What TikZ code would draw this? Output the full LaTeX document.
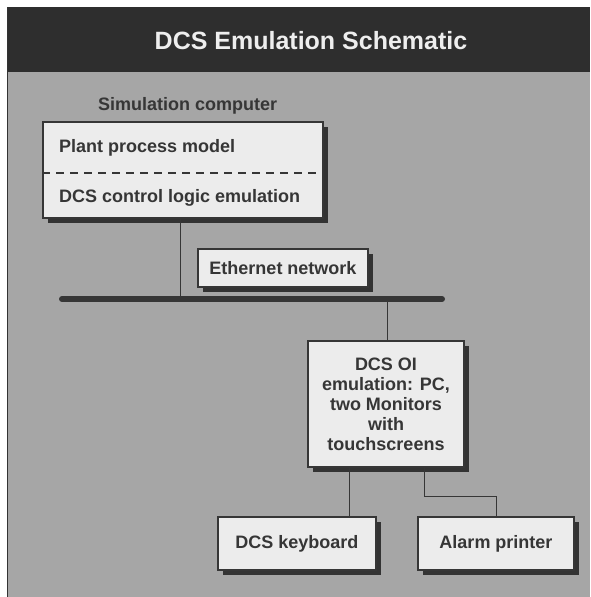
\documentclass[tikz,border=0pt]{standalone}
\usepackage{fontspec}
\setmainfont{Liberation Sans}
\usetikzlibrary{shadows}
\definecolor{bargray}{HTML}{2E2E2E}
\definecolor{bggray}{HTML}{A6A6A6}
\definecolor{boxfill}{HTML}{ECECEC}
\definecolor{inkgray}{HTML}{363636}
\definecolor{shadowgray}{HTML}{333333}
\definecolor{titlewhite}{HTML}{EEEEEE}
\tikzset{
  bodyfont/.style={font=\fontsize{18}{20}\selectfont\bfseries, text=inkgray},
  boxnode/.style={draw=inkgray, line width=1.3pt, fill=boxfill, inner sep=0pt,
    drop shadow={shadow xshift=4.5pt, shadow yshift=-4.5pt, fill=shadowgray, opacity=1},
    bodyfont, align=center},
  label text/.style={bodyfont, inner sep=0pt},
  wire/.style={draw=inkgray, line width=1pt},
  bus/.style={draw=inkgray, line width=6pt, line cap=round}
}
\begin{document}
\begin{tikzpicture}[x=1pt, y=-1pt]
\useasboundingbox (0,0) rectangle (590,597);
\fill[white] (0,0) rectangle (590,597);
\fill[bggray] (7,72) rectangle (590,597);
\fill[bargray] (7,7) rectangle (590,72);
\draw[shadowgray, line width=1pt] (7.5,7) -- (7.5,597);
\node[font=\fontsize{25}{28}\selectfont\bfseries, text=titlewhite, inner sep=0pt] (title) at (311,41) {DCS Emulation Schematic};

\node[label text, anchor=west] (simlabel) at (98,106) {Simulation computer};

\node[boxnode, minimum width=280pt, minimum height=96pt] (sim) at (183,170) {};
\draw[inkgray, line width=1.3pt, dash pattern=on 8pt off 6pt] (sim.west |- 0,173) coordinate (dashL) -- (sim.east |- 0,173) coordinate (dashR);
\node[label text, anchor=west] (ppm) at (59,148) {Plant process model};
\node[label text, anchor=west] (dcl) at (59,198) {DCS control logic emulation};

\coordinate (busL) at (62,299);
\coordinate (busR) at (442,299);
\coordinate (tapA) at (180,299);
\coordinate (tapB) at (387,299);

\node[boxnode, minimum width=170pt, minimum height=38pt] (eth) at (283,268) {Ethernet network};

\node[boxnode, minimum width=156pt, minimum height=126pt] (oi) at (386,404)
  {DCS OI\\emulation: PC,\\two Monitors\\with\\touchscreens};

\node[boxnode, minimum width=158pt, minimum height=53pt] (kb) at (297,543.5) {DCS keyboard};
\node[boxnode, minimum width=156pt, minimum height=53pt] (pr) at (496,543.5) {Alarm printer};

\coordinate (kbtap) at (349,517);
\coordinate (prtapA) at (424,467);
\coordinate (prbend) at (424,496);

\draw[wire] (sim.south -| tapA) -- (tapA);
\draw[wire] (tapB) -- (oi.north -| tapB);
\draw[bus] (busL) -- (busR);
\draw[wire] (oi.south -| kbtap) -- (kbtap);
\draw[wire] (oi.south -| prbend) -- (prbend) -| (pr.north);
\end{tikzpicture}
\end{document}
